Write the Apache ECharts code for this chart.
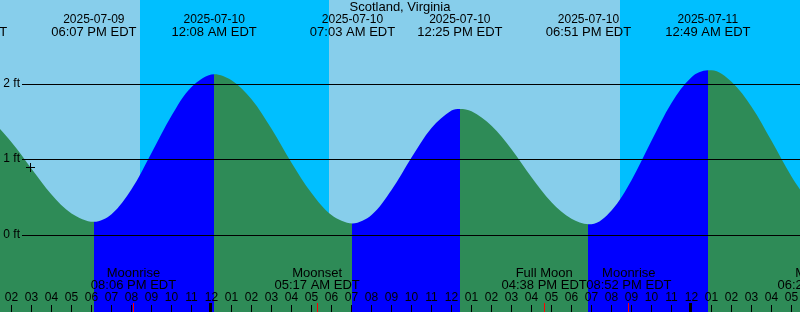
<!DOCTYPE html>
<html><head><meta charset="utf-8">
<script src="https://cdn.jsdelivr.net/npm/echarts@6/dist/echarts.min.js"></script>
<style>html,body{margin:0;padding:0;background:#87CEEB}#c{width:800px;height:312px}</style>
</head><body><div id="c"></div>
<script>
// ---------- data ----------
const stationName = 'Scotland, Virginia';
const viewStart = '2025-07-09 13:25:30';
const viewEnd = '2025-07-11 05:25:30';

const tideTimes = [
  '2025-07-09 11:41','2025-07-09 13:00','2025-07-09 14:00','2025-07-09 15:00','2025-07-09 16:00','2025-07-09 17:00',
  '2025-07-09 18:07','2025-07-09 19:00','2025-07-09 20:00','2025-07-09 21:00','2025-07-09 22:00','2025-07-09 23:00',
  '2025-07-10 00:08','2025-07-10 01:00','2025-07-10 02:00','2025-07-10 03:00','2025-07-10 04:00','2025-07-10 05:00',
  '2025-07-10 06:00','2025-07-10 07:03','2025-07-10 08:00','2025-07-10 09:00','2025-07-10 10:00','2025-07-10 11:00',
  '2025-07-10 12:00','2025-07-10 12:25','2025-07-10 13:00','2025-07-10 14:00','2025-07-10 15:00','2025-07-10 16:00',
  '2025-07-10 17:00','2025-07-10 18:00','2025-07-10 18:51','2025-07-10 19:00','2025-07-10 20:00','2025-07-10 21:00',
  '2025-07-10 22:00','2025-07-10 23:00','2025-07-11 00:00','2025-07-11 00:49','2025-07-11 01:00','2025-07-11 02:00',
  '2025-07-11 03:00','2025-07-11 04:00','2025-07-11 05:00','2025-07-11 06:00'
];
const tideHeights = [
  1.64, 1.50, 1.23, 0.88, 0.54, 0.29,
  0.18, 0.28, 0.61, 1.09, 1.58, 1.96,
  2.13, 2.05, 1.80, 1.41, 0.96, 0.56,
  0.27, 0.16, 0.27, 0.60, 1.03, 1.42,
  1.65, 1.67, 1.64, 1.45, 1.14, 0.77,
  0.44, 0.22, 0.15, 0.15, 0.33, 0.73,
  1.25, 1.75, 2.09, 2.18, 2.18, 2.03,
  1.70, 1.25, 0.78, 0.39
];

const extremeTimes = ['2025-07-09 11:41','2025-07-09 18:07','2025-07-10 00:08','2025-07-10 07:03','2025-07-10 12:25','2025-07-10 18:51','2025-07-11 00:49'];
const extremeTypes = ['high','low','high','low','high','low','high'];

const moonTimes = ['2025-07-09 20:06','2025-07-10 05:17','2025-07-10 16:38','2025-07-10 20:52','2025-07-11 06:26'];
const moonNames = ['Moonrise','Moonset','Full Moon','Moonrise','Moonset'];

const nightStarts = ['2025-07-09 20:26','2025-07-10 20:26'];
const nightEnds   = ['2025-07-10 05:53','2025-07-11 05:54'];

const firstHourTick = '2025-07-09 14:00';
const hourTickLabels = ['02','03','04','05','06','07','08','09','10','11','12',
  '01','02','03','04','05','06','07','08','09','10','11','12',
  '01','02','03','04','05','06','07','08','09','10','11','12',
  '01','02','03','04','05'];

const heightTicks = [0, 1, 2];
const heightTickLabels = ['0 ft','1 ft','2 ft'];

const markerTime = '2025-07-09 14:57';
const markerHeight = 0.90;

// ---------- helpers ----------
const REF = Date.UTC(2025, 6, 10);
function toH(s){
  const [d, tm] = s.split(' ');
  const [Y, M, D] = d.split('-').map(Number);
  const p = tm.split(':').map(Number);
  return (Date.UTC(Y, M - 1, D, p[0], p[1], p[2] || 0) - REF) / 36e5;
}
function fmtTime(s){
  const tm = s.split(' ')[1];
  const [h, m] = tm.split(':').map(Number);
  const ap = h < 12 ? 'AM' : 'PM';
  let h12 = h % 12; if (h12 === 0) h12 = 12;
  return String(h12).padStart(2, '0') + ':' + String(m).padStart(2, '0') + ' ' + ap + ' EDT';
}
const FAM = '"Liberation Sans", Arial, sans-serif';
const FONT_S = '12px ' + FAM;
const FONT_L = '13px ' + FAM;
const GREEN = '#2E8B57', BLUE = '#0000FF', DAY = '#87CEEB', NIGHT = '#00BFFF';
function txt(x, y, text, font, align){
  return {type: 'text', x: x, y: y, style: {text: text, fill: '#000', font: font, align: align || 'center', verticalAlign: 'middle', textAlign: align || 'center', textVerticalAlign: 'middle'}};
}

const tideData = tideTimes.map((t, i) => [toH(t), tideHeights[i]]);
const exH = extremeTimes.map(toH);
const pieces = [];
pieces.push({lt: exH[0], color: extremeTypes[0] === 'high' ? BLUE : GREEN});
for (let i = 0; i < exH.length - 1; i++) {
  pieces.push({gte: exH[i], lt: exH[i + 1], color: extremeTypes[i] === 'high' ? GREEN : BLUE});
}
pieces.push({gte: exH[exH.length - 1], color: extremeTypes[exH.length - 1] === 'high' ? GREEN : BLUE});

const chart = echarts.init(document.getElementById('c'), null, {renderer: 'canvas'});
chart.setOption({
  animation: false,
  backgroundColor: DAY,
  grid: {left: 0, right: 0, top: 0, bottom: 0, show: true, backgroundColor: DAY, borderWidth: 0},
  xAxis: {type: 'value', min: toH(viewStart), max: toH(viewEnd), show: false},
  yAxis: {type: 'value', min: -1.01, max: 3.109, show: false},
  visualMap: {type: 'piecewise', show: false, dimension: 0, seriesIndex: 1, pieces: pieces},
  graphic: [txt(400, 7.5, stationName, FONT_L)],
  series: [
    { // night bands
      type: 'custom', z: 1, silent: true,
      data: nightStarts.map((s, i) => [toH(s), toH(nightEnds[i])]),
      renderItem: function(params, api){
        const cs = params.coordSys;
        const a = Math.max(cs.x, Math.round(api.coord([api.value(0), 0])[0]));
        const b = Math.min(cs.x + cs.width, Math.round(api.coord([api.value(1), 0])[0]));
        return {type: 'rect', shape: {x: a, y: cs.y, width: Math.max(0, b - a), height: cs.height}, style: {fill: NIGHT}};
      }
    },
    { // tide
      type: 'line', z: 2, silent: true, data: tideData, smooth: 0.34,
      showSymbol: false, symbol: 'none',
      lineStyle: {width: 0},
      areaStyle: {opacity: 1, origin: 'start'}
    },
    { // height lines
      type: 'custom', z: 4, silent: true,
      data: heightTicks.map(v => [0, v]),
      renderItem: function(params, api){
        const cs = params.coordSys;
        const y = Math.floor(api.coord([0, api.value(1)])[1]) + 0.5;
        return {type: 'group', children: [
          {type: 'line', shape: {x1: 22, y1: y, x2: cs.x + cs.width, y2: y}, style: {stroke: '#000', lineWidth: 1}},
          txt(20, y - 0.5, heightTickLabels[params.dataIndex], FONT_S, 'right')
        ]};
      }
    },
    { // hour ticks & labels
      type: 'custom', z: 4, silent: true,
      data: hourTickLabels.map((l, i) => [toH(firstHourTick) + i, 0]),
      renderItem: function(params, api){
        const cs = params.coordSys;
        const t = api.value(0);
        const x = api.coord([t, 0])[0];
        const col = Math.floor(x);
        const yb = cs.y + cs.height;
        const midnight = ((t % 24) + 24) % 24 === 0;
        const tick = midnight
          ? {type: 'rect', shape: {x: col - 2, y: yb - 9, width: 3, height: 9}, style: {fill: '#000'}}
          : {type: 'rect', shape: {x: col, y: yb - 7, width: 1, height: 7}, style: {fill: '#000'}};
        return {type: 'group', children: [tick, txt(x, yb - 14.5, hourTickLabels[params.dataIndex], FONT_S)]};
      }
    },
    { // moon events
      type: 'custom', z: 4, silent: true,
      data: moonTimes.map(t => [toH(t), 0]),
      renderItem: function(params, api){
        const cs = params.coordSys;
        const x = api.coord([api.value(0), 0])[0];
        const col = Math.floor(x);
        const yb = cs.y + cs.height;
        return {type: 'group', children: [
          {type: 'rect', shape: {x: col, y: yb - 9, width: 1, height: 9}, style: {fill: '#FF0000'}},
          txt(x, yb - 38.5, moonNames[params.dataIndex], FONT_L),
          txt(x, yb - 26.2, fmtTime(moonTimes[params.dataIndex]), FONT_L)
        ]};
      }
    },
    { // extreme labels
      type: 'custom', z: 4, silent: true,
      data: extremeTimes.map(t => [toH(t), 0]),
      renderItem: function(params, api){
        const x = api.coord([api.value(0), 0])[0];
        const s = extremeTimes[params.dataIndex];
        return {type: 'group', children: [
          txt(x, 19.5, s.split(' ')[0], FONT_S),
          txt(x, 32, fmtTime(s), FONT_L)
        ]};
      }
    },
    { // current-time marker
      type: 'custom', z: 5, silent: true,
      data: [[toH(markerTime), markerHeight]],
      renderItem: function(params, api){
        const p = api.coord([api.value(0), api.value(1)]);
        const cx = Math.floor(p[0]), cy = Math.floor(p[1]);
        return {type: 'group', children: [
          {type: 'rect', shape: {x: cx - 4, y: cy, width: 9, height: 1}, style: {fill: '#000'}},
          {type: 'rect', shape: {x: cx, y: cy - 4, width: 1, height: 9}, style: {fill: '#000'}}
        ]};
      }
    }
  ]
});
</script>
</body></html>
